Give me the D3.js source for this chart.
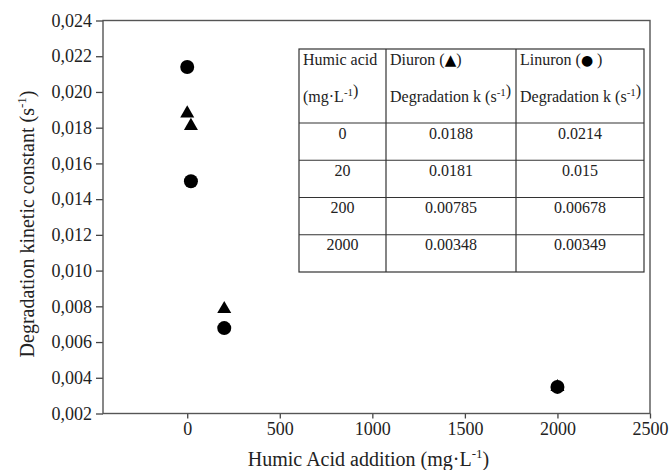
<!doctype html>
<html lang="en">
<head>
<meta charset="utf-8">
<style>
html, body {
    margin: 0;
    padding: 0;
    background: #fff;
}
svg text {
    font-family: "Liberation Serif", "Times New Roman", serif;
    fill: #222;
}
.axis path {
    display: none;
}
.axis line {
    stroke: #444;
    stroke-width: 1.3;
}
.axis text {
    font-size: 18px;
}
.glyph {
    font-family: "DejaVu Sans", sans-serif;
}
</style>
</head>
<body>
<svg id="chart" width="671" height="470"></svg>
<script src="https://cdn.jsdelivr.net/npm/d3@7/dist/d3.min.js"></script>
<script>
// humic acid dose (mg/L) and first order constants (1/s)
const humic = [0, 20, 200, 2000];
const diuron = [0.0188, 0.0181, 0.00785, 0.00348];
const linuron = [0.0214, 0.015, 0.00678, 0.00349];
const xTicks = [0, 500, 1000, 1500, 2000, 2500];
const yTicks = [0.002, 0.004, 0.006, 0.008, 0.010, 0.012, 0.014, 0.016, 0.018, 0.020, 0.022, 0.024];

const svg = d3.select('#chart');
const pLeft = 103, pRight = 650, pTop = 20.5, pBottom = 413.5;

const x = d3.scaleLinear().domain([-455, 2500]).range([pLeft, pRight]);
const y = d3.scaleLinear().domain([0.002, 0.024]).range([pBottom, pTop]);

const comma = d3.formatLocale({decimal: ',', thousands: '.', grouping: [3], currency: ['', '']}).format('.3f');

svg.append('g')
    .attr('class', 'axis')
    .attr('transform', `translate(0,${pBottom})`)
    .call(d3.axisBottom(x).tickValues(xTicks).tickFormat(d3.format('d')).tickSize(5).tickSizeOuter(0).tickPadding(4))
    .selectAll('text').attr('fill', '#222');

svg.append('g')
    .attr('class', 'axis')
    .attr('transform', `translate(${pLeft},0)`)
    .call(d3.axisLeft(y).tickValues(yTicks).tickFormat(comma).tickSize(7).tickSizeOuter(0).tickPadding(4))
    .selectAll('text').attr('fill', '#222');

// frame
svg.append('rect')
    .attr('x', pLeft).attr('y', pTop)
    .attr('width', pRight - pLeft).attr('height', pBottom - pTop)
    .attr('fill', 'none')
    .attr('stroke', '#555')
    .attr('stroke-width', 1.4);

// axis titles
const xt = svg.append('text')
    .attr('x', (pLeft + pRight) / 2 - 8).attr('y', 466)
    .attr('text-anchor', 'middle')
    .style('font-size', '20px');
xt.append('tspan').text('Humic Acid addition (mg·L');
xt.append('tspan').attr('dy', -8).style('font-size', '13px').text('-1');
xt.append('tspan').attr('dy', 8).text(')');

const yt = svg.append('text')
    .attr('transform', 'translate(34,224) rotate(-90)')
    .attr('text-anchor', 'middle')
    .style('font-size', '20px');
yt.append('tspan').text('Degradation kinetic constant (s');
yt.append('tspan').attr('dy', -8).style('font-size', '13px').text('-1');
yt.append('tspan').attr('dy', 8).text(')');

// markers: triangles first, circles drawn over them
const tri = d3.symbol().type(d3.symbolTriangle).size(85);
svg.append('g').selectAll('path')
    .data(humic.map((h, i) => ({h, k: diuron[i]})))
    .join('path')
    .attr('d', tri)
    .attr('transform', d => `translate(${x(d.h)},${y(d.k)})`)
    .attr('fill', '#000');

svg.append('g').selectAll('circle')
    .data(humic.map((h, i) => ({h, k: linuron[i]})))
    .join('circle')
    .attr('cx', d => x(d.h))
    .attr('cy', d => y(d.k))
    .attr('r', 7)
    .attr('fill', '#000');

// inset table
const cols = [299, 386, 516, 644];
const headTop = 49, headBottom = 123, rowH = 37.25;
const tableBottom = headBottom + rowH * humic.length;
const table = svg.append('g').attr('class', 'table');

table.append('rect')
    .attr('x', cols[0]).attr('y', headTop)
    .attr('width', cols[3] - cols[0]).attr('height', tableBottom - headTop)
    .attr('fill', '#fff').attr('stroke', '#333').attr('stroke-width', 1.2);

cols.slice(1, 3).forEach(c => {
    table.append('line')
        .attr('x1', c).attr('x2', c).attr('y1', headTop).attr('y2', tableBottom)
        .attr('stroke', '#333').attr('stroke-width', 1.2);
});
d3.range(humic.length).forEach(i => {
    table.append('line')
        .attr('x1', cols[0]).attr('x2', cols[3])
        .attr('y1', headBottom + rowH * i).attr('y2', headBottom + rowH * i)
        .attr('stroke', '#333').attr('stroke-width', 1.2);
});

// parts: plain strings, ['sup', txt] for superscripts, ['glyph', txt, size] for marker keys
function headerCell(xp, yp, parts) {
    const t = table.append('text').attr('x', xp).attr('y', yp).style('font-size', '16px');
    parts.forEach(p => {
        if (Array.isArray(p) && p[0] === 'sup') {
            t.append('tspan').attr('dy', -6).style('font-size', '11px').text(p[1]);
            t.append('tspan').attr('dy', 6).text('');
        } else if (Array.isArray(p)) {
            t.append('tspan').attr('class', 'glyph').style('font-size', p[2] + 'px').style('fill', '#000').text(p[1]);
        } else {
            t.append('tspan').text(p);
        }
    });
}
headerCell(cols[0] + 4, 65, ['Humic acid']);
headerCell(cols[0] + 4, 102, ['(mg·L', ['sup', '-1'], ')']);
headerCell(cols[1] + 4, 65, ['Diuron (', ['glyph', '▲', 15], ')']);
headerCell(cols[1] + 4, 102, ['Degradation k (s', ['sup', '-1'], ')']);
headerCell(cols[2] + 4, 65, ['Linuron (', ['glyph', '●', 14], ' )']);
headerCell(cols[2] + 4, 102, ['Degradation k (s', ['sup', '-1'], ')']);

humic.forEach((h, i) => {
    const yb = headBottom + rowH * i + 15.5;
    [h, diuron[i], linuron[i]].forEach((v, j) => {
        table.append('text')
            .attr('x', (cols[j] + cols[j + 1]) / 2)
            .attr('y', yb)
            .attr('text-anchor', 'middle')
            .style('font-size', '16px')
            .text(String(v));
    });
});
</script>
</body>
</html>
